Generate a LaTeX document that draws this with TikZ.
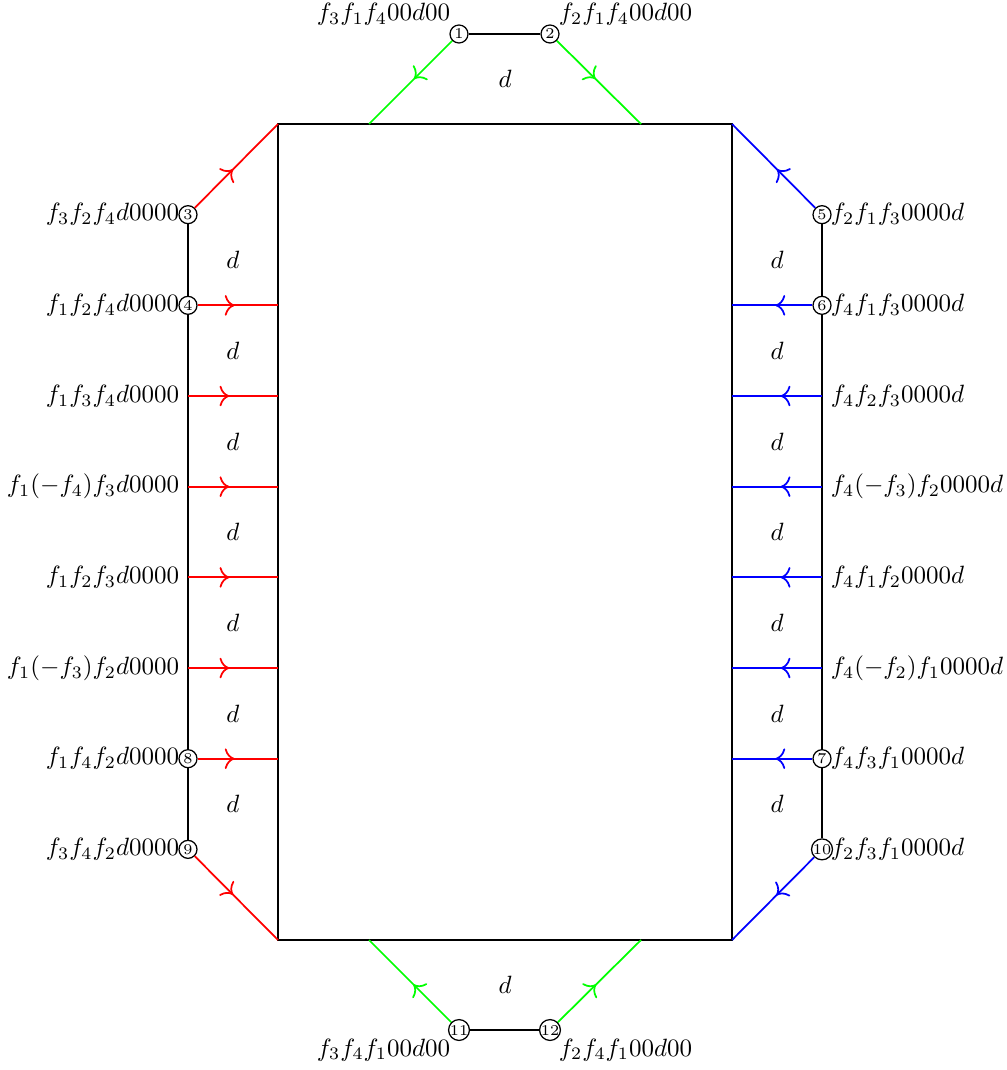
\documentclass[tikz,border=0pt]{standalone}
\usetikzlibrary{decorations.markings,arrows.meta}
\begin{document}
\begin{tikzpicture}[x=0.4pt,y=-0.4pt,
  conn/.style={line width=0.7pt},
  midarrow/.style={conn,postaction={decorate},decoration={markings,mark=at position 0.46 with {\arrow{Computer Modern Rightarrow[scale=1.25]}}}},
  cnum/.style={circle,draw,fill=white,line width=0.5pt,inner sep=0pt,minimum size=7.2pt,font=\fontsize{6}{6}\selectfont},
  lbl/.style={inner sep=3.33pt}]
\useasboundingbox (0,0) rectangle (1006,1070);
% rectangle corners
\coordinate (A) at (278,124);
\coordinate (B) at (732,124);
\coordinate (C) at (732,940);
\coordinate (D) at (278,940);
\coordinate (g1) at (369,124);
\coordinate (g2) at (641,124);
\coordinate (g3) at (369,940);
\coordinate (g4) at (641,940);
% rows
\foreach \k in {1,...,8}{
  \pgfmathsetmacro{\yy}{124+90.67*\k}
  \coordinate (L\k) at (188,\yy);
  \coordinate (R\k) at (822,\yy);
  \coordinate (PL\k) at (278,\yy);
  \coordinate (PR\k) at (732,\yy);
}
% circles
\node[cnum] (c1) at (459,34) {1};
\node[cnum] (c2) at (550,34) {2};
\node[cnum] (c11) at (459,1030) {11};
\node[cnum] (c12) at (550,1030) {12};
\node[cnum] (c3) at (L1) {3};
\node[cnum] (c4) at (L2) {4};
\node[cnum] (c8) at (L7) {8};
\node[cnum] (c9) at (L8) {9};
\node[cnum] (c5) at (R1) {5};
\node[cnum] (c6) at (R2) {6};
\node[cnum] (c7) at (R7) {7};
\node[cnum] (c10) at (R8) {10};
% black structure
\draw[conn] (A) -- (B) -- (C) -- (D) -- cycle;
\draw[conn] (c1) -- (c2);
\draw[conn] (c11) -- (c12);
\draw[conn] (c3) -- (c4);
\draw[conn] (c4) -- (c8);
\draw[conn] (c8) -- (c9);
\draw[conn] (c5) -- (c6);
\draw[conn] (c6) -- (c7);
\draw[conn] (c7) -- (c10);
% green
\draw[midarrow,green] (c1) -- (g1);
\draw[midarrow,green] (c2) -- (g2);
\draw[midarrow,green] (c11) -- (g3);
\draw[midarrow,green] (c12) -- (g4);
% red
\draw[midarrow,red] (c3) -- (A);
\draw[midarrow,red] (c4) -- (PL2);
\foreach \k in {3,...,6}{\draw[midarrow,red] (L\k) -- (PL\k);}
\draw[midarrow,red] (c8) -- (PL7);
\draw[midarrow,red] (c9) -- (D);
% blue
\draw[midarrow,blue] (c5) -- (B);
\draw[midarrow,blue] (c6) -- (PR2);
\foreach \k in {3,...,6}{\draw[midarrow,blue] (R\k) -- (PR\k);}
\draw[midarrow,blue] (c7) -- (PR7);
\draw[midarrow,blue] (c10) -- (C);
% d labels
\node (dtop) at (505,79) {$d$};
\node (dbot) at (505,985) {$d$};
\foreach \k in {1,...,7}{
  \pgfmathsetmacro{\yy}{124+90.67*(\k+0.5)}
  \node (dl\k) at (233,\yy) {$d$};
  \node (dr\k) at (777,\yy) {$d$};
}
% top/bottom labels
\node[lbl,anchor=south east] (t1) at (459,34) {$f_3f_1f_400d00$};
\node[lbl,anchor=south west] (t2) at (550,34) {$f_2f_1f_400d00$};
\node[lbl,anchor=north east] (t11) at (459,1030) {$f_3f_4f_100d00$};
\node[lbl,anchor=north west] (t12) at (550,1030) {$f_2f_4f_100d00$};
% left labels
\node[lbl,anchor=east] (l1) at (L1) {$f_3f_2f_4d0000$};
\node[lbl,anchor=east] (l2) at (L2) {$f_1f_2f_4d0000$};
\node[lbl,anchor=east] (l3) at (L3) {$f_1f_3f_4d0000$};
\node[lbl,anchor=east] (l4) at (L4) {$f_1(-f_4)f_3d0000$};
\node[lbl,anchor=east] (l5) at (L5) {$f_1f_2f_3d0000$};
\node[lbl,anchor=east] (l6) at (L6) {$f_1(-f_3)f_2d0000$};
\node[lbl,anchor=east] (l7) at (L7) {$f_1f_4f_2d0000$};
\node[lbl,anchor=east] (l8) at (L8) {$f_3f_4f_2d0000$};
% right labels
\node[lbl,anchor=west] (r1) at (R1) {$f_2f_1f_30000d$};
\node[lbl,anchor=west] (r2) at (R2) {$f_4f_1f_30000d$};
\node[lbl,anchor=west] (r3) at (R3) {$f_4f_2f_30000d$};
\node[lbl,anchor=west] (r4) at (R4) {$f_4(-f_3)f_20000d$};
\node[lbl,anchor=west] (r5) at (R5) {$f_4f_1f_20000d$};
\node[lbl,anchor=west] (r6) at (R6) {$f_4(-f_2)f_10000d$};
\node[lbl,anchor=west] (r7) at (R7) {$f_4f_3f_10000d$};
\node[lbl,anchor=west] (r8) at (R8) {$f_2f_3f_10000d$};
\end{tikzpicture}
\end{document}
